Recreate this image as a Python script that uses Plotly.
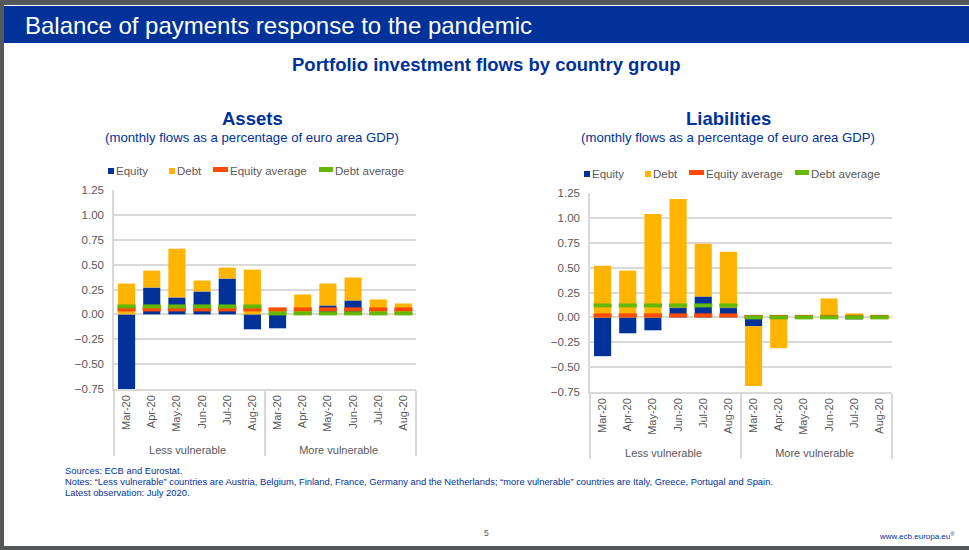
import plotly.graph_objects as go

months = ["Mar-20", "Apr-20", "May-20", "Jun-20", "Jul-20", "Aug-20"] * 2
groups = ["Less vulnerable"] * 6 + ["More vulnerable"] * 6

assets_equity = [-0.77, 0.27, 0.17, 0.23, 0.36, -0.15, -0.14, 0.0, 0.09, 0.14, 0.0, 0.0]
assets_debt = [0.31, 0.17, 0.49, 0.11, 0.11, 0.45, 0.06, 0.20, 0.22, 0.23, 0.15, 0.11]
assets_equity_avg = [0.05] * 6 + [0.05] * 6
assets_debt_avg = [0.08] * 6 + [0.01] * 6

liab_equity = [-0.39, -0.16, -0.13, 0.10, 0.21, 0.10, -0.09, 0.0, 0.0, 0.0, -0.02, 0.0]
liab_debt = [0.52, 0.47, 1.04, 1.09, 0.53, 0.56, -0.60, -0.31, 0.0, 0.19, 0.04, 0.0]
liab_equity_avg = [0.02] * 6 + [0.005] * 6
liab_debt_avg = [0.12] * 6 + [0.0] * 6

y_ticks = [-0.75, -0.50, -0.25, 0.0, 0.25, 0.50, 0.75, 1.00, 1.25]

BLUE = "#003299"
YELLOW = "#ffb400"
RED = "#ff4b00"
GREEN = "#65b800"
GREY = "#595959"
FRAME = "#54585a"
FONT = "Liberation Sans"
W, H = 969, 550

fig = go.Figure()


def add_panel(equity, debt, equity_avg, debt_avg, axis):
    x = [groups, months]
    common = dict(x=x, xaxis="x" + axis, yaxis="y" + axis, showlegend=False)
    fig.add_trace(go.Bar(y=equity, name="Equity", marker=dict(color=BLUE, line_width=0), **common))
    fig.add_trace(go.Bar(y=debt, name="Debt", marker=dict(color=YELLOW, line_width=0), **common))
    fig.add_trace(go.Scatter(y=equity_avg, name="Equity average", mode="markers",
                             marker=dict(symbol="line-ew", size=13, line=dict(color=RED, width=4)), **common))
    fig.add_trace(go.Scatter(y=debt_avg, name="Debt average", mode="markers",
                             marker=dict(symbol="line-ew", size=13, line=dict(color=GREEN, width=4)), **common))


add_panel(assets_equity, assets_debt, assets_equity_avg, assets_debt_avg, "")
add_panel(liab_equity, liab_debt, liab_equity_avg, liab_debt_avg, "2")


def x_axis(left, right, anchor):
    return dict(domain=[left / W, right / W], anchor=anchor, type="multicategory",
                range=[-0.5, 11.5], tickangle=-90, tickfont=dict(size=11, color=GREY, family=FONT),
                showline=True, linecolor="#d9d9d9", linewidth=1.5,
                showdividers=True, dividercolor="#d9d9d9", dividerwidth=1.5,
                showgrid=False, ticks="", automargin=False)


def y_axis(top, bottom, anchor):
    return dict(domain=[1 - bottom / H, 1 - top / H], anchor=anchor, range=[-0.75, 1.25],
                tickvals=y_ticks, tickformat=".2f", tickfont=dict(size=11.5, color=GREY, family=FONT),
                ticklabelstandoff=6,
                gridcolor="#d9d9d9", gridwidth=1.5, showline=True, linecolor="#d9d9d9", linewidth=1.5,
                zeroline=True, zerolinecolor="#d9d9d9", zerolinewidth=1.5, ticks="", automargin=False)


def text(x, y, s, size, color=BLUE, anchor="center", bold=False):
    shift = {"left": -2, "right": 2, "center": 0}[anchor]
    fig.add_annotation(xref="paper", yref="paper", x=x / W, y=1 - y / H, text=f"<b>{s}</b>" if bold else s,
                       showarrow=False, xanchor=anchor, yanchor="middle", xshift=shift,
                       font=dict(size=size, color=color, family=FONT))


def box(x0, x1, y0, y1, color):
    return dict(type="rect", xref="paper", yref="paper", x0=x0 / W, x1=x1 / W, y0=1 - y1 / H, y1=1 - y0 / H,
                fillcolor=color, line_width=0, layer="below")


# slide frame and header band
shapes = [
    box(0, W, 0, 5, FRAME),
    box(0, 4, 0, H, FRAME),
    box(0, W, 546, H, FRAME),
    box(4, W, 6, 43, BLUE),
]

# hand placed legends, same spacing in both panels
for dx, dy in [(0, 0), (476, 3)]:
    shapes += [
        box(108 + dx, 114 + dx, 168 + dy, 174 + dy, BLUE),
        box(169 + dx, 175 + dx, 168 + dy, 174 + dy, YELLOW),
        box(213 + dx, 228 + dx, 167 + dy, 172 + dy, RED),
        box(319 + dx, 333 + dx, 167 + dy, 172 + dy, GREEN),
    ]
    text(116 + dx, 171 + dy, "Equity", 11.5, color=GREY, anchor="left")
    text(177 + dx, 171 + dy, "Debt", 11.5, color=GREY, anchor="left")
    text(230 + dx, 171 + dy, "Equity average", 11.5, color=GREY, anchor="left")
    text(335 + dx, 171 + dy, "Debt average", 11.5, color=GREY, anchor="left")

text(25, 26, "Balance of payments response to the pandemic", 24, color="white", anchor="left")
text(487, 65, "Portfolio investment flows by country group", 18.5, bold=True)
text(252, 119, "Assets", 18.5, bold=True)
text(252, 137.5, "(monthly flows as a percentage of euro area GDP)", 13.2)
text(728, 119, "Liabilities", 18.5, bold=True)
text(728, 137.5, "(monthly flows as a percentage of euro area GDP)", 13.2)
text(65, 470, "Sources: ECB and Eurostat.", 9.4, anchor="left")
text(65, 481, "Notes: \u201cLess vulnerable\u201d countries are Austria, Belgium, Finland, France, Germany and the Netherlands; "
              "\u201cmore vulnerable\u201d countries are Italy, Greece, Portugal and Spain.", 9.4, anchor="left")
text(65, 492, "Latest observation: July 2020.", 9.4, anchor="left")
text(486, 533, "5", 8.5, color=GREY)
text(955, 536, "www.ecb.europa.eu<sup>\u00ae</sup>", 8, anchor="right")

fig.update_layout(
    width=W, height=H, margin=dict(l=0, r=0, t=0, b=0, autoexpand=False),
    paper_bgcolor="white", plot_bgcolor="white", showlegend=False,
    barmode="relative", bargap=0.32, shapes=shapes,
    xaxis=x_axis(114, 416, "y"), yaxis=y_axis(190, 389, "x"),
    xaxis2=x_axis(590, 892, "y2"), yaxis2=y_axis(193, 392, "x2"),
)

fig.write_html("out.html", config={"displayModeBar": False}, post_script="document.body.style.margin='0';")
